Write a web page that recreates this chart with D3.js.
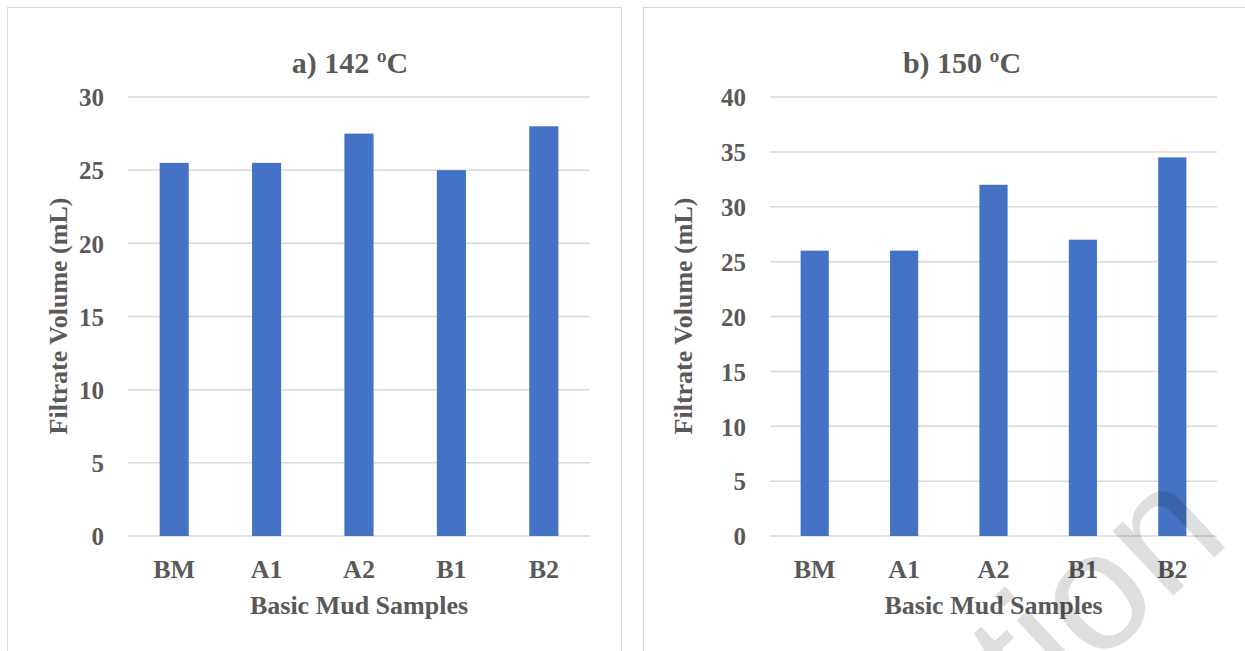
<!DOCTYPE html>
<html><head><meta charset="utf-8">
<script src="https://cdn.jsdelivr.net/npm/d3@7"></script>
<style>
html,body{margin:0;padding:0;background:#fff;}
text{font-family:"Liberation Serif","Times New Roman",serif;font-weight:bold;fill:#595959;}
</style></head>
<body><svg id="c" width="1245" height="651"></svg>
<script>
const categories = ["BM","A1","A2","B1","B2"];
const values142 = [25.5,25.5,27.5,25,28];
const values150 = [26,26,32,27,34.5];
const ticks142 = [0,5,10,15,20,25,30];
const ticks150 = [0,5,10,15,20,25,30,35,40];
const titles = ["a) 142 ºC","b) 150 ºC"];
const xTitle = "Basic Mud Samples";
const yTitle = "Filtrate Volume (mL)";

const svg = d3.select("#c");
svg.append("rect").attr("width",1245).attr("height",651).attr("fill","#fff");

const panels = [
  {bx:7, bw:614, x0:128, x1:590, ymax:30, ticks:ticks142, vals:values142, title:titles[0], tx:350, ytx:58, tickX:104},
  {bx:643, bw:640, x0:770, x1:1217, ymax:40, ticks:ticks150, vals:values150, title:titles[1], tx:962, ytx:683, tickX:746}
];
const yTop = 97, yBot = 536;

panels.forEach(p => {
  svg.append("rect").attr("x",p.bx+0.5).attr("y",7.5).attr("width",p.bw).attr("height",700)
    .attr("fill","none").attr("stroke","#d9d9d9").attr("stroke-width",1);
  const x = d3.scaleBand().domain(categories).range([p.x0,p.x1]).padding(0);
  const y = d3.scaleLinear().domain([0,p.ymax]).range([yBot,yTop]);
  const g = svg.append("g");
  g.selectAll("line.grid").data(p.ticks).join("line")
    .attr("x1",p.x0).attr("x2",p.x1)
    .attr("y1",d=>y(d)).attr("y2",d=>y(d))
    .attr("stroke","#d9d9d9").attr("stroke-width",1.5);
  const ya = d3.axisLeft(y).tickValues(p.ticks).tickSize(0).tickPadding(0);
  const yg = svg.append("g").attr("transform",`translate(${p.tickX},0)`).call(ya);
  yg.select(".domain").remove();
  yg.selectAll("text").attr("font-size",25).attr("dy","0.35em").style("font-family","Liberation Serif").style("font-weight","bold").attr("fill","#595959");
  const bw = x.bandwidth()*0.315;
  g.selectAll("rect.bar").data(categories.map((c,i)=>({c,v:p.vals[i]}))).join("rect")
    .attr("x",d=>x(d.c)+x.bandwidth()/2-bw/2).attr("width",bw)
    .attr("y",d=>y(d.v)).attr("height",d=>yBot-y(d.v))
    .attr("fill","#4472c4");
  const xa = d3.axisBottom(x).tickSize(0).tickPadding(0);
  const xg = svg.append("g").attr("transform",`translate(0,${yBot})`).call(xa);
  xg.select(".domain").remove();
  xg.selectAll("text").attr("y",42).attr("dy",0).attr("font-size",26).style("font-family","Liberation Serif").style("font-weight","bold").attr("fill","#595959");
  svg.append("text").attr("x",p.tx).attr("y",73).attr("text-anchor","middle").attr("font-size",30).text(p.title);
  svg.append("text").attr("x",(p.x0+p.x1)/2).attr("y",614).attr("text-anchor","middle").attr("font-size",26).text(xTitle);
  svg.append("text").attr("transform",`translate(${p.ytx},316) rotate(-90)`).attr("text-anchor","middle").attr("dy","0.35em").attr("font-size",26).text(yTitle);
});

// watermark (partially visible, as in the reference)
svg.append("text").attr("transform","translate(1233,540) rotate(-43)")
  .attr("text-anchor","end").attr("font-size",168)
  .style("font-family","Liberation Sans").style("font-weight","normal")
  .style("fill","#000").style("fill-opacity",0.13).text("tion");
</script></body></html>
